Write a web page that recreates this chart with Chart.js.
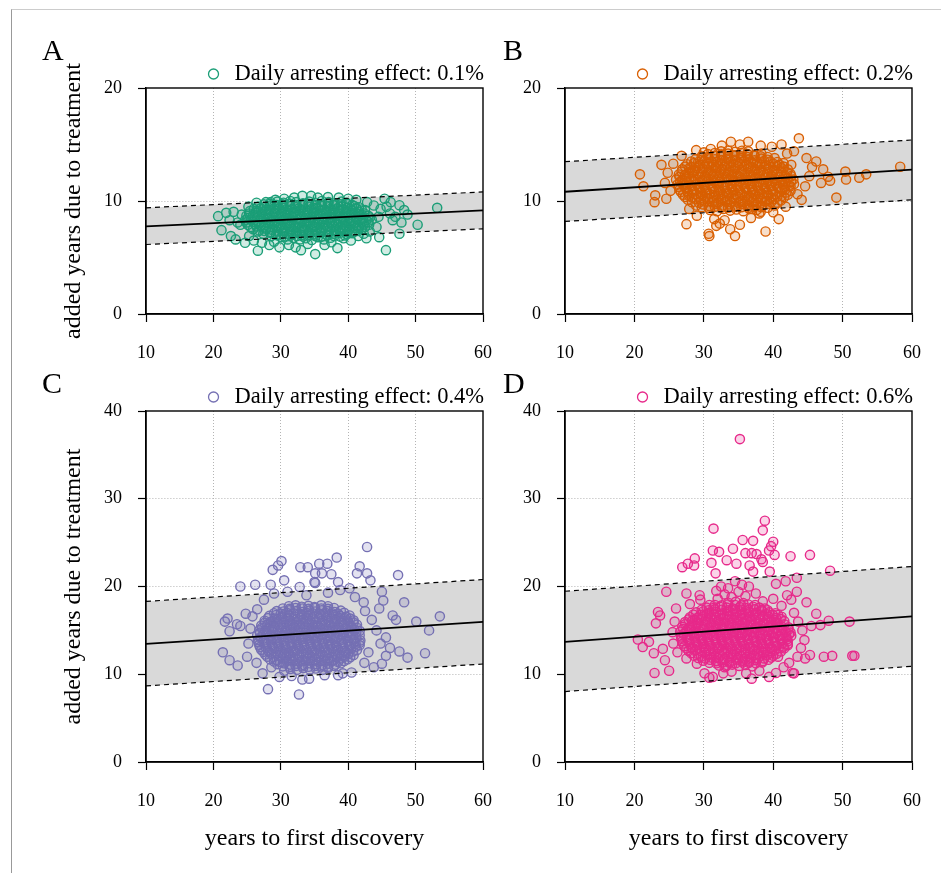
<!DOCTYPE html>
<html>
<head>
<meta charset="utf-8">
<script src="https://cdn.jsdelivr.net/npm/chart.js@4.4.0/dist/chart.umd.min.js"></script>
<style>
  body { margin: 0; background: #fff; width: 941px; height: 873px; position: relative; overflow: hidden; }
  .frame { position: absolute; left: 11px; top: 9px; right: -2px; bottom: -2px; border-left: 1px solid #999; border-top: 1px solid #ccc; }
  canvas { position: absolute; }
</style>
</head>
<body>
<div class="frame"></div>
<canvas id="chartA" width="512" height="370" style="left:0;top:0"></canvas>
<canvas id="chartB" width="471" height="370" style="left:470px;top:0"></canvas>
<canvas id="chartC" width="512" height="503" style="left:0;top:370px"></canvas>
<canvas id="chartD" width="471" height="503" style="left:470px;top:370px"></canvas>
<script>
// ------------------- DATA -------------------
const xTicks = [10, 20, 30, 40, 50, 60];
const yTicksTop = [0, 10, 20];
const yTicksBottom = [0, 10, 20, 30, 40];
const lineX = [10, 60];

const effects = ["0.1%", "0.2%", "0.4%", "0.6%"];

// fitted line and dashed band, values at x = 10 and x = 60
const fitA = [7.75, 9.17],  upperA = [9.4, 10.8],   lowerA = [6.15, 7.54];
const fitB = [10.82, 12.77], upperB = [13.48, 15.4], lowerB = [8.19, 10.1];
const fitC = [13.46, 15.96], upperC = [18.3, 20.8],  lowerC = [8.67, 11.17];
const fitD = [13.68, 16.6],  upperD = [19.46, 22.28], lowerD = [8.03, 10.91];

// [years to first discovery, added years due to treatment]
const pointsA = [
  [30.1,6.8],[31.0,6.6],[31.9,6.75],[32.8,6.6],[33.7,6.7],[34.6,6.55],[35.5,6.8],[36.4,6.6],[37.4,6.75],
  [28.6,6.9],[29.6,6.95],[30.5,6.85],[31.5,6.95],[32.4,6.9],[33.3,6.85],[34.2,6.95],[35.1,6.9],[36.0,6.85],[36.9,6.95],[37.9,6.9],[38.8,6.85],[39.5,6.95],
  [27.4,7.1],[28.4,7.2],[29.3,7.0],[30.3,7.15],[31.2,7.05],[32.2,7.2],[33.1,7.0],[34.1,7.15],[35.0,7.05],[36.0,7.2],[36.9,7.0],[37.9,7.1],[38.8,7.2],[39.8,7.05],[40.6,7.15],
  [26.6,7.3],[27.6,7.35],[28.5,7.25],[29.5,7.3],[30.4,7.35],[31.4,7.25],[32.3,7.3],[33.3,7.35],[34.2,7.25],[35.2,7.3],[36.1,7.35],[37.1,7.25],[38.0,7.3],[39.0,7.35],[39.9,7.25],[40.9,7.3],[41.5,7.35],
  [25.9,7.5],[26.8,7.4],[27.8,7.55],[28.7,7.45],[29.7,7.6],[30.6,7.4],[31.6,7.5],[32.5,7.6],[33.5,7.45],[34.4,7.55],[35.4,7.4],[36.3,7.6],[37.3,7.5],[38.2,7.4],[39.2,7.55],[40.1,7.45],[41.1,7.6],[42.0,7.5],
  [25.5,7.7],[26.4,7.75],[27.4,7.65],[28.3,7.7],[29.3,7.75],[30.2,7.65],[31.2,7.7],[32.1,7.75],[33.1,7.65],[34.0,7.7],[35.0,7.75],[35.9,7.65],[36.9,7.7],[37.8,7.75],[38.8,7.65],[39.7,7.7],[40.7,7.75],[41.6,7.65],[42.5,7.7],
  [25.1,7.9],[26.2,7.95],[27.1,7.85],[28.1,8.0],[29.0,7.9],[30.0,7.8],[30.9,7.95],[31.9,7.85],[32.8,8.0],[33.8,7.9],[34.7,7.8],[35.7,7.95],[36.6,7.85],[37.6,8.0],[38.5,7.9],[39.5,7.8],[40.4,7.95],[41.4,7.85],[42.3,8.0],[43.1,7.9],
  [24.9,8.1],[25.9,8.15],[26.8,8.05],[27.8,8.1],[28.7,8.15],[29.7,8.05],[30.6,8.1],[31.6,8.15],[32.5,8.05],[33.5,8.1],[34.4,8.15],[35.4,8.05],[36.3,8.1],[37.3,8.15],[38.2,8.05],[39.2,8.1],[40.1,8.15],[41.1,8.05],[42.0,8.1],[43.0,8.15],
  [24.7,8.3],[25.6,8.35],[26.6,8.25],[27.5,8.4],[28.5,8.3],[29.4,8.2],[30.4,8.35],[31.3,8.25],[32.3,8.4],[33.2,8.3],[34.2,8.2],[35.1,8.35],[36.1,8.25],[37.0,8.4],[38.0,8.3],[38.9,8.2],[39.9,8.35],[40.8,8.25],[41.8,8.4],[42.7,8.3],[43.5,8.35],
  [25.1,8.5],[26.1,8.55],[27.0,8.45],[28.0,8.5],[28.9,8.55],[29.9,8.45],[30.8,8.5],[31.8,8.55],[32.7,8.45],[33.7,8.5],[34.6,8.55],[35.6,8.45],[36.5,8.5],[37.5,8.55],[38.4,8.45],[39.4,8.5],[40.3,8.55],[41.3,8.45],[42.2,8.5],[43.2,8.55],
  [24.9,8.7],[25.9,8.75],[26.8,8.65],[27.8,8.8],[28.7,8.7],[29.7,8.6],[30.6,8.75],[31.6,8.65],[32.5,8.8],[33.5,8.7],[34.4,8.6],[35.4,8.75],[36.3,8.65],[37.3,8.8],[38.2,8.7],[39.2,8.6],[40.1,8.75],[41.1,8.65],[42.0,8.8],[43.0,8.7],
  [25.3,8.9],[26.3,8.95],[27.2,8.85],[28.2,8.9],[29.1,8.95],[30.1,8.85],[31.0,8.9],[32.0,8.95],[32.9,8.85],[33.9,8.9],[34.8,8.95],[35.8,8.85],[36.7,8.9],[37.7,8.95],[38.6,8.85],[39.6,8.9],[40.5,8.95],[41.5,8.85],[42.4,8.9],
  [25.4,9.1],[26.4,9.15],[27.3,9.05],[28.3,9.2],[29.2,9.1],[30.2,9.0],[31.1,9.15],[32.1,9.05],[33.0,9.2],[34.0,9.1],[34.9,9.0],[35.9,9.15],[36.8,9.05],[37.8,9.2],[38.7,9.1],[39.7,9.0],[40.6,9.15],[41.6,9.05],[42.5,9.2],
  [26.0,9.3],[27.0,9.35],[27.9,9.25],[28.9,9.3],[29.8,9.35],[30.8,9.25],[31.7,9.3],[32.7,9.35],[33.6,9.25],[34.6,9.3],[35.5,9.35],[36.5,9.25],[37.4,9.3],[38.4,9.35],[39.3,9.25],[40.3,9.3],[41.2,9.35],[42.0,9.25],
  [26.6,9.5],[27.6,9.45],[28.5,9.6],[29.5,9.5],[30.4,9.4],[31.4,9.55],[32.3,9.45],[33.3,9.6],[34.2,9.5],[35.2,9.4],[36.1,9.55],[37.1,9.45],[38.0,9.6],[39.0,9.5],[39.9,9.4],[40.9,9.55],[41.6,9.45],
  [27.5,9.7],[28.4,9.75],[29.4,9.65],[30.3,9.7],[31.3,9.75],[32.2,9.65],[33.2,9.7],[34.1,9.75],[35.1,9.65],[36.0,9.7],[37.0,9.75],[37.9,9.65],[38.9,9.7],[39.8,9.75],[40.6,9.65],
  [28.5,9.9],[29.5,9.95],[30.4,9.85],[31.4,10.0],[32.3,9.9],[33.3,9.8],[34.2,9.95],[35.2,9.85],[36.1,10.0],[37.1,9.9],[38.0,9.8],[39.0,9.95],[39.7,9.85],
  [20.7,8.66],[21.9,8.95],[23.0,9.04],[21.2,7.42],[22.4,8.3],[22.6,6.9],[23.3,6.6],[24.7,6.3],[26.6,5.6],[33.2,10.46],
  [35.1,5.3],[38.4,5.83],[33.0,5.65],[29.8,5.9],[45.4,10.2],[45.6,5.65],[47.6,9.63],[48.8,8.8],[50.3,7.9],[53.2,9.4],
  [47.6,7.1],[44.6,6.8],[42.7,6.7],[40.4,6.5],[42.3,7.1],[46.6,8.3],[45.7,9.5],[24.0,7.9],[24.2,8.8],[23.6,8.1],
  [25.3,6.9],[26.0,6.5],[27.2,6.3],[28.3,6.1],[29.0,6.4],[31.2,6.1],[32.2,5.9],[34.0,6.2],[36.5,6.1],[37.5,6.35],
  [39.3,6.7],[41.5,6.9],[43.2,7.3],[44.2,7.7],[44.5,8.6],[44.8,9.3],[46.2,8.9],[47.0,8.6],[46.3,9.9],[43.8,9.6],
  [42.8,9.9],[41.2,10.1],[40.0,10.2],[38.6,10.3],[37.0,10.35],[35.5,10.3],[34.5,10.45],[32.0,10.3],[30.5,10.2],[29.2,10.1],
  [27.8,9.9],[26.4,9.85],[25.2,9.5],[47.9,8.1],[48.3,9.2]
];

const pointsB = [
  [30.9,9.2],[31.9,9.1],[32.8,9.3],[33.8,9.15],[34.7,9.25],[35.7,9.1],[36.6,9.3],[37.6,9.2],[38.2,9.05],
  [29.7,9.45],[30.7,9.4],[31.6,9.5],[32.6,9.45],[33.5,9.4],[34.5,9.5],[35.4,9.45],[36.4,9.4],[37.3,9.5],[38.3,9.45],[39.2,9.4],
  [28.9,9.6],[29.9,9.7],[30.8,9.55],[31.8,9.75],[32.7,9.6],[33.7,9.7],[34.6,9.55],[35.6,9.75],[36.5,9.6],[37.5,9.7],[38.4,9.55],[39.4,9.75],[40.2,9.6],
  [28.3,9.9],[29.3,9.85],[30.2,9.95],[31.2,9.9],[32.1,9.85],[33.1,9.95],[34.0,9.9],[35.0,9.85],[35.9,9.95],[36.9,9.9],[37.8,9.85],[38.8,9.95],[39.7,9.9],[40.6,9.85],
  [27.7,10.1],[28.7,10.2],[29.6,10.05],[30.6,10.2],[31.5,10.0],[32.5,10.15],[33.4,10.05],[34.4,10.2],[35.3,10.0],[36.3,10.15],[37.2,10.05],[38.2,10.2],[39.1,10.0],[40.1,10.15],[41.1,10.05],
  [27.3,10.35],[28.3,10.3],[29.2,10.4],[30.2,10.35],[31.1,10.3],[32.1,10.4],[33.0,10.35],[34.0,10.3],[34.9,10.4],[35.9,10.35],[36.8,10.3],[37.8,10.4],[38.7,10.35],[39.7,10.3],[40.6,10.4],[41.6,10.35],
  [27.0,10.55],[27.9,10.45],[28.9,10.6],[29.8,10.5],[30.8,10.65],[31.7,10.45],[32.7,10.55],[33.6,10.65],[34.6,10.5],[35.5,10.6],[36.5,10.45],[37.4,10.55],[38.4,10.65],[39.3,10.5],[40.3,10.6],[41.2,10.45],[42.1,10.55],
  [26.7,10.8],[27.7,10.75],[28.6,10.85],[29.6,10.8],[30.5,10.75],[31.5,10.85],[32.4,10.8],[33.4,10.75],[34.3,10.85],[35.3,10.8],[36.2,10.75],[37.2,10.85],[38.1,10.8],[39.1,10.75],[40.0,10.85],[41.0,10.8],[41.9,10.75],
  [26.5,11.0],[27.5,11.1],[28.4,10.95],[29.4,11.05],[30.3,10.9],[31.3,11.1],[32.2,11.0],[33.2,10.9],[34.1,11.05],[35.1,10.95],[36.0,11.1],[37.0,11.0],[37.9,10.9],[38.9,11.05],[39.8,10.95],[40.8,11.1],[41.7,11.0],[42.5,10.9],
  [26.4,11.25],[27.3,11.2],[28.3,11.3],[29.2,11.25],[30.2,11.2],[31.1,11.3],[32.1,11.25],[33.0,11.2],[34.0,11.3],[34.9,11.25],[35.9,11.2],[36.8,11.3],[37.8,11.25],[38.7,11.2],[39.7,11.3],[40.6,11.25],[41.6,11.2],[42.5,11.3],
  [26.2,11.45],[27.1,11.55],[28.1,11.4],[29.0,11.5],[30.0,11.35],[30.9,11.55],[31.9,11.45],[32.8,11.35],[33.8,11.5],[34.7,11.4],[35.7,11.55],[36.6,11.45],[37.6,11.35],[38.5,11.5],[39.5,11.4],[40.4,11.55],[41.4,11.45],[42.3,11.35],[43.0,11.5],
  [26.6,11.7],[27.6,11.65],[28.5,11.75],[29.5,11.7],[30.4,11.65],[31.4,11.75],[32.3,11.7],[33.3,11.65],[34.2,11.75],[35.2,11.7],[36.1,11.65],[37.1,11.75],[38.0,11.7],[39.0,11.65],[39.9,11.75],[40.9,11.7],[41.8,11.65],[42.6,11.75],
  [26.0,11.9],[26.9,11.85],[27.9,12.0],[28.8,11.9],[29.8,11.8],[30.7,11.95],[31.7,11.85],[32.6,12.0],[33.6,11.9],[34.5,11.8],[35.5,11.95],[36.4,11.85],[37.4,12.0],[38.3,11.9],[39.3,11.8],[40.2,11.95],[41.2,11.85],[42.1,12.0],[42.9,11.9],
  [26.5,12.15],[27.5,12.1],[28.4,12.2],[29.4,12.15],[30.3,12.1],[31.3,12.2],[32.2,12.15],[33.2,12.1],[34.1,12.2],[35.1,12.15],[36.0,12.1],[37.0,12.2],[37.9,12.15],[38.9,12.1],[39.8,12.2],[40.8,12.15],[41.7,12.1],[42.6,12.2],
  [26.4,12.35],[27.3,12.3],[28.3,12.45],[29.2,12.35],[30.2,12.25],[31.1,12.4],[32.1,12.3],[33.0,12.45],[34.0,12.35],[34.9,12.25],[35.9,12.4],[36.8,12.3],[37.8,12.45],[38.7,12.35],[39.7,12.25],[40.6,12.4],[41.6,12.3],[42.5,12.4],
  [26.8,12.6],[27.8,12.55],[28.7,12.65],[29.7,12.6],[30.6,12.55],[31.6,12.65],[32.5,12.6],[33.5,12.55],[34.4,12.65],[35.4,12.6],[36.3,12.55],[37.3,12.65],[38.2,12.6],[39.2,12.55],[40.1,12.65],[41.1,12.6],[42.0,12.55],
  [26.9,12.8],[27.9,12.9],[28.8,12.75],[29.8,12.85],[30.7,12.7],[31.7,12.9],[32.6,12.8],[33.6,12.7],[34.5,12.85],[35.5,12.75],[36.4,12.9],[37.4,12.8],[38.3,12.7],[39.3,12.85],[40.2,12.75],[41.2,12.9],[42.1,12.8],
  [27.3,13.05],[28.2,13.0],[29.2,13.1],[30.1,13.05],[31.1,13.0],[32.0,13.1],[33.0,13.05],[33.9,13.0],[34.9,13.1],[35.8,13.05],[36.8,13.0],[37.7,13.1],[38.7,13.05],[39.6,13.0],[40.6,13.1],[41.5,13.05],
  [27.6,13.25],[28.6,13.35],[29.5,13.2],[30.5,13.3],[31.4,13.15],[32.4,13.35],[33.3,13.25],[34.3,13.15],[35.2,13.3],[36.2,13.2],[37.1,13.35],[38.1,13.25],[39.0,13.15],[40.0,13.3],[40.9,13.2],[41.5,13.35],
  [28.2,13.5],[29.2,13.45],[30.1,13.55],[31.1,13.5],[32.0,13.45],[33.0,13.55],[33.9,13.5],[34.9,13.45],[35.8,13.55],[36.8,13.5],[37.7,13.45],[38.7,13.55],[39.6,13.5],[40.6,13.45],
  [28.8,13.7],[29.7,13.65],[30.7,13.8],[31.6,13.7],[32.6,13.6],[33.5,13.75],[34.5,13.65],[35.4,13.8],[36.4,13.7],[37.3,13.6],[38.3,13.75],[39.2,13.65],[40.2,13.8],
  [29.7,13.95],[30.6,13.9],[31.6,14.0],[32.5,13.95],[33.5,13.9],[34.4,14.0],[35.4,13.95],[36.3,13.9],[37.3,14.0],[38.2,13.95],[39.2,13.9],
  [30.6,14.15],[31.6,14.25],[32.5,14.1],[33.5,14.2],[34.4,14.05],[35.4,14.25],[36.3,14.15],[37.3,14.05],[38.3,14.2],
  [32.5,14.4],[33.5,14.45],[34.5,14.35],[35.5,14.45],[36.4,14.4],
  [43.7,15.55],[41.2,15.0],[33.9,15.25],[36.4,15.25],[20.8,12.36],[21.3,11.3],[22.9,9.9],[23.0,10.5],[23.9,13.2],[27.5,7.95],
  [30.7,7.1],[30.8,6.9],[34.5,6.9],[38.9,7.3],[40.8,8.4],[35.2,7.9],[32.3,8.0],[49.1,10.3],[50.4,12.6],[50.5,11.9],
  [52.4,12.06],[53.4,12.36],[58.3,13.03],[47.9,12.15],[46.2,13.5],[44.1,10.1],[28.9,14.5],[24.4,11.6],[24.8,12.5],[25.2,10.9],
  [24.6,10.2],[25.6,13.3],[26.8,14.0],[27.9,9.3],[29.0,8.7],[31.5,8.4],[33.0,8.3],[36.8,8.5],[38.0,8.9],[40.0,9.0],
  [41.8,9.5],[43.5,10.6],[44.6,11.3],[45.2,12.2],[45.6,13.0],[44.8,13.8],[43.0,14.4],[42.0,14.2],[39.8,14.8],[38.2,14.9],
  [35.2,15.0],[32.6,14.9],[31.0,14.6],[30.0,14.3],[46.9,11.6],[48.2,11.8],[47.2,12.8],[31.8,7.8],[33.8,7.5],[37.0,9.3],
  [42.6,13.2],[27.2,11.4]
];

const pointsC = [
  [31.4,10.6],[32.4,10.5],[33.3,10.7],[34.3,10.55],[35.2,10.65],[36.2,10.5],[37.0,10.7],
  [30.3,10.9],[31.3,10.85],[32.2,10.95],[33.2,10.9],[34.1,10.85],[35.1,10.95],[36.0,10.9],[37.0,10.85],[37.9,10.95],
  [29.5,11.15],[30.5,11.25],[31.4,11.1],[32.4,11.2],[33.3,11.05],[34.3,11.25],[35.2,11.15],[36.2,11.05],[37.1,11.2],[38.1,11.1],[38.9,11.25],
  [29.0,11.45],[29.9,11.4],[30.9,11.5],[31.8,11.45],[32.8,11.4],[33.7,11.5],[34.7,11.45],[35.6,11.4],[36.6,11.5],[37.5,11.45],[38.5,11.4],[39.4,11.5],
  [28.4,11.7],[29.4,11.6],[30.3,11.8],[31.3,11.65],[32.2,11.75],[33.2,11.6],[34.1,11.8],[35.1,11.7],[36.0,11.6],[37.0,11.75],[37.9,11.65],[38.9,11.8],[39.9,11.7],
  [28.0,12.0],[28.9,11.95],[29.9,12.05],[30.8,12.0],[31.8,11.95],[32.7,12.05],[33.7,12.0],[34.6,11.95],[35.6,12.05],[36.5,12.0],[37.5,11.95],[38.4,12.05],[39.4,12.0],[40.3,11.95],
  [27.7,12.25],[28.6,12.35],[29.6,12.2],[30.5,12.3],[31.5,12.15],[32.4,12.35],[33.4,12.25],[34.3,12.15],[35.3,12.3],[36.2,12.2],[37.2,12.35],[38.1,12.25],[39.1,12.15],[40.0,12.3],[40.8,12.2],
  [27.4,12.55],[28.3,12.5],[29.3,12.6],[30.2,12.55],[31.2,12.5],[32.1,12.6],[33.1,12.55],[34.0,12.5],[35.0,12.6],[35.9,12.55],[36.9,12.5],[37.8,12.6],[38.8,12.55],[39.7,12.5],[40.7,12.6],
  [27.1,12.8],[28.1,12.7],[29.0,12.9],[30.0,12.75],[30.9,12.85],[31.9,12.7],[32.8,12.9],[33.8,12.8],[34.7,12.7],[35.7,12.85],[36.6,12.75],[37.6,12.9],[38.5,12.8],[39.5,12.7],[40.4,12.85],[41.3,12.75],
  [26.9,13.1],[27.8,13.05],[28.8,13.15],[29.7,13.1],[30.7,13.05],[31.6,13.15],[32.6,13.1],[33.5,13.05],[34.5,13.15],[35.4,13.1],[36.4,13.05],[37.3,13.15],[38.3,13.1],[39.2,13.05],[40.2,13.15],[41.1,13.1],
  [26.8,13.35],[27.8,13.45],[28.7,13.3],[29.7,13.4],[30.6,13.25],[31.6,13.45],[32.5,13.35],[33.5,13.25],[34.4,13.4],[35.4,13.3],[36.3,13.45],[37.3,13.35],[38.2,13.25],[39.2,13.4],[40.1,13.3],[41.1,13.45],[41.7,13.3],
  [26.7,13.65],[27.6,13.6],[28.6,13.7],[29.5,13.65],[30.5,13.6],[31.4,13.7],[32.4,13.65],[33.3,13.6],[34.3,13.7],[35.2,13.65],[36.2,13.6],[37.1,13.7],[38.1,13.65],[39.0,13.6],[40.0,13.7],[40.9,13.65],[41.7,13.6],
  [26.6,13.9],[27.5,13.85],[28.5,14.0],[29.4,13.9],[30.4,13.8],[31.3,13.95],[32.3,13.85],[33.2,14.0],[34.2,13.9],[35.1,13.8],[36.1,13.95],[37.0,13.85],[38.0,14.0],[38.9,13.9],[39.9,13.8],[40.8,13.95],[41.8,13.85],
  [27.0,14.2],[27.9,14.15],[28.9,14.25],[29.8,14.2],[30.8,14.15],[31.7,14.25],[32.7,14.2],[33.6,14.15],[34.6,14.25],[35.5,14.2],[36.5,14.15],[37.4,14.25],[38.4,14.2],[39.3,14.15],[40.3,14.25],[41.2,14.2],
  [26.5,14.45],[27.4,14.55],[28.4,14.4],[29.3,14.5],[30.3,14.35],[31.2,14.55],[32.2,14.45],[33.1,14.35],[34.1,14.5],[35.0,14.4],[36.0,14.55],[36.9,14.45],[37.9,14.35],[38.8,14.5],[39.8,14.4],[40.7,14.55],[41.7,14.45],
  [26.9,14.75],[27.9,14.7],[28.8,14.8],[29.8,14.75],[30.7,14.7],[31.7,14.8],[32.6,14.75],[33.6,14.7],[34.5,14.8],[35.5,14.75],[36.4,14.7],[37.4,14.8],[38.3,14.75],[39.3,14.7],[40.2,14.8],[41.2,14.75],
  [26.8,15.0],[27.7,14.95],[28.7,15.1],[29.6,15.0],[30.6,14.9],[31.5,15.05],[32.5,14.95],[33.4,15.1],[34.4,15.0],[35.3,14.9],[36.3,15.05],[37.2,14.95],[38.2,15.1],[39.1,15.0],[40.1,14.9],[41.0,15.05],[41.7,14.95],
  [27.2,15.3],[28.2,15.25],[29.1,15.35],[30.1,15.3],[31.0,15.25],[32.0,15.35],[32.9,15.3],[33.9,15.25],[34.8,15.35],[35.8,15.3],[36.7,15.25],[37.7,15.35],[38.6,15.3],[39.6,15.25],[40.5,15.35],[41.3,15.3],
  [27.1,15.55],[28.0,15.65],[29.0,15.5],[29.9,15.6],[30.9,15.45],[31.8,15.65],[32.8,15.55],[33.7,15.45],[34.7,15.6],[35.6,15.5],[36.6,15.65],[37.5,15.55],[38.5,15.45],[39.4,15.6],[40.4,15.5],[41.3,15.65],
  [27.6,15.85],[28.5,15.8],[29.5,15.9],[30.4,15.85],[31.4,15.8],[32.3,15.9],[33.3,15.85],[34.2,15.8],[35.2,15.9],[36.1,15.85],[37.1,15.8],[38.0,15.9],[39.0,15.85],[39.9,15.8],[40.8,15.9],
  [27.6,16.1],[28.6,16.0],[29.5,16.2],[30.5,16.05],[31.4,16.15],[32.4,16.0],[33.3,16.2],[34.3,16.1],[35.2,16.0],[36.2,16.15],[37.1,16.05],[38.1,16.2],[39.0,16.1],[40.0,16.0],[40.8,16.15],
  [28.1,16.4],[29.1,16.35],[30.0,16.45],[31.0,16.4],[31.9,16.35],[32.9,16.45],[33.8,16.4],[34.8,16.35],[35.7,16.45],[36.7,16.4],[37.6,16.35],[38.6,16.45],[39.5,16.4],[40.3,16.35],
  [28.3,16.65],[29.3,16.75],[30.2,16.6],[31.2,16.7],[32.1,16.55],[33.1,16.75],[34.0,16.65],[35.0,16.55],[35.9,16.7],[36.9,16.6],[37.8,16.75],[38.8,16.65],[39.7,16.55],[40.2,16.7],
  [29.0,16.95],[30.0,16.9],[30.9,17.0],[31.9,16.95],[32.8,16.9],[33.8,17.0],[34.7,16.95],[35.7,16.9],[36.6,17.0],[37.6,16.95],[38.5,16.9],[39.4,17.0],
  [29.4,17.2],[30.4,17.15],[31.3,17.3],[32.3,17.2],[33.2,17.1],[34.2,17.25],[35.1,17.15],[36.1,17.3],[37.0,17.2],[38.0,17.1],[38.9,17.25],
  [30.3,17.5],[31.3,17.45],[32.2,17.55],[33.2,17.5],[34.1,17.45],[35.1,17.55],[36.0,17.5],[37.0,17.45],[37.9,17.55],
  [31.2,17.75],[32.2,17.85],[33.1,17.7],[34.1,17.8],[35.0,17.65],[36.0,17.85],[37.0,17.75],
  [42.8,24.5],[38.3,23.3],[30.1,22.9],[29.6,22.4],[28.8,21.9],[32.9,22.2],[34.0,22.2],[35.7,22.6],[36.9,22.6],[35.1,21.5],
  [36.1,21.5],[37.5,21.4],[41.7,22.3],[41.3,21.5],[42.8,21.5],[43.3,20.7],[47.4,21.3],[24.0,20.0],[26.2,20.2],[28.5,20.2],
  [30.5,20.7],[32.8,19.95],[35.0,20.5],[48.3,18.2],[50.1,16.0],[52.0,15.0],[53.6,16.6],[51.4,12.4],[48.8,11.9],[47.6,12.6],
  [45.0,11.2],[43.8,10.8],[28.1,8.3],[32.7,7.7],[21.4,12.5],[22.4,11.6],[23.6,11.0],[21.7,16.0],[22.1,16.35],[22.4,14.9],
  [24.0,15.5],[27.3,10.1],[29.8,9.7],[33.2,9.4],[34.2,9.5],[38.5,9.9],[45.0,19.4],[45.2,18.4],[42.3,18.2],[46.6,16.7],
  [47.1,16.2],[38.5,20.5],[40.2,19.8],[35.1,20.4],[25.0,12.0],[25.2,13.5],[25.5,15.2],[25.8,16.6],[26.5,17.4],[24.8,16.9],
  [23.5,15.7],[27.5,18.5],[29.0,19.2],[31.0,19.4],[33.8,19.0],[37.0,19.3],[38.8,19.6],[41.0,18.8],[42.5,17.2],[43.5,16.2],
  [44.2,15.0],[44.8,13.5],[45.6,14.2],[46.2,13.0],[43.0,12.5],[42.4,11.3],[40.5,10.2],[36.5,9.9],[31.6,9.8],[30.5,10.4],
  [28.6,10.8],[26.4,11.3],[44.6,17.5],[45.6,12.1],[39.2,10.1]
];

const pointsD = [
  [32.2,11.0],[33.2,10.9],[34.1,11.1],[35.1,10.95],[36.0,11.05],[37.0,10.9],
  [30.8,11.3],[31.8,11.25],[32.7,11.35],[33.7,11.3],[34.6,11.25],[35.6,11.35],[36.5,11.3],[37.5,11.25],[38.4,11.35],
  [29.9,11.55],[30.9,11.65],[31.8,11.5],[32.8,11.6],[33.7,11.45],[34.7,11.65],[35.6,11.55],[36.6,11.45],[37.5,11.6],[38.5,11.5],[39.3,11.65],
  [29.2,11.85],[30.2,11.8],[31.1,11.9],[32.1,11.85],[33.0,11.8],[34.0,11.9],[34.9,11.85],[35.9,11.8],[36.8,11.9],[37.8,11.85],[38.7,11.8],[39.7,11.9],
  [28.6,12.1],[29.6,12.0],[30.5,12.2],[31.5,12.05],[32.4,12.15],[33.4,12.0],[34.3,12.2],[35.3,12.1],[36.2,12.0],[37.2,12.15],[38.1,12.05],[39.1,12.2],[40.0,12.1],[40.7,12.0],
  [28.2,12.4],[29.1,12.35],[30.1,12.45],[31.0,12.4],[32.0,12.35],[32.9,12.45],[33.9,12.4],[34.8,12.35],[35.8,12.45],[36.7,12.4],[37.7,12.35],[38.6,12.45],[39.6,12.4],[40.5,12.35],
  [27.8,12.65],[28.8,12.75],[29.7,12.6],[30.7,12.7],[31.6,12.55],[32.6,12.75],[33.5,12.65],[34.5,12.55],[35.4,12.7],[36.4,12.6],[37.3,12.75],[38.3,12.65],[39.2,12.55],[40.2,12.7],[41.1,12.6],
  [27.5,12.95],[28.4,12.9],[29.4,13.0],[30.3,12.95],[31.3,12.9],[32.2,13.0],[33.2,12.95],[34.1,12.9],[35.1,13.0],[36.0,12.95],[37.0,12.9],[37.9,13.0],[38.9,12.95],[39.8,12.9],[40.8,13.0],[41.6,12.95],
  [27.2,13.2],[28.2,13.1],[29.1,13.3],[30.1,13.15],[31.0,13.25],[32.0,13.1],[32.9,13.3],[33.9,13.2],[34.8,13.1],[35.8,13.25],[36.7,13.15],[37.7,13.3],[38.6,13.2],[39.6,13.1],[40.5,13.25],[41.5,13.15],[42.1,13.3],
  [27.0,13.5],[28.0,13.45],[28.9,13.55],[29.9,13.5],[30.8,13.45],[31.8,13.55],[32.7,13.5],[33.7,13.45],[34.6,13.55],[35.6,13.5],[36.5,13.45],[37.5,13.55],[38.4,13.5],[39.4,13.45],[40.3,13.55],[41.3,13.5],[42.1,13.45],
  [26.9,13.75],[27.9,13.85],[28.8,13.7],[29.8,13.8],[30.7,13.65],[31.7,13.85],[32.6,13.75],[33.6,13.65],[34.5,13.8],[35.5,13.7],[36.4,13.85],[37.4,13.75],[38.3,13.65],[39.3,13.8],[40.2,13.7],[41.2,13.85],[42.1,13.75],
  [26.8,14.05],[27.7,14.0],[28.7,14.1],[29.6,14.05],[30.6,14.0],[31.5,14.1],[32.5,14.05],[33.4,14.0],[34.4,14.1],[35.3,14.05],[36.3,14.0],[37.2,14.1],[38.2,14.05],[39.1,14.0],[40.1,14.1],[41.0,14.05],[42.0,14.0],
  [26.7,14.3],[27.6,14.25],[28.6,14.4],[29.5,14.3],[30.5,14.2],[31.4,14.35],[32.4,14.25],[33.3,14.4],[34.3,14.3],[35.2,14.2],[36.2,14.35],[37.1,14.25],[38.1,14.4],[39.0,14.3],[40.0,14.2],[40.9,14.35],[41.9,14.25],[42.6,14.4],
  [27.1,14.6],[28.0,14.55],[29.0,14.65],[29.9,14.6],[30.9,14.55],[31.8,14.65],[32.8,14.6],[33.7,14.55],[34.7,14.65],[35.6,14.6],[36.6,14.55],[37.5,14.65],[38.5,14.6],[39.4,14.55],[40.4,14.65],[41.3,14.6],[42.3,14.55],
  [26.6,14.85],[27.5,14.95],[28.5,14.8],[29.4,14.9],[30.4,14.75],[31.3,14.95],[32.3,14.85],[33.2,14.75],[34.2,14.9],[35.1,14.8],[36.1,14.95],[37.0,14.85],[38.0,14.75],[38.9,14.9],[39.9,14.8],[40.8,14.95],[41.8,14.85],[42.5,14.75],
  [27.0,15.15],[28.0,15.1],[28.9,15.2],[29.9,15.15],[30.8,15.1],[31.8,15.2],[32.7,15.15],[33.7,15.1],[34.6,15.2],[35.6,15.15],[36.5,15.1],[37.5,15.2],[38.4,15.15],[39.4,15.1],[40.3,15.2],[41.3,15.15],[42.2,15.1],
  [26.9,15.4],[27.9,15.35],[28.8,15.5],[29.8,15.4],[30.7,15.3],[31.7,15.45],[32.6,15.35],[33.6,15.5],[34.5,15.4],[35.5,15.3],[36.4,15.45],[37.4,15.35],[38.3,15.5],[39.3,15.4],[40.2,15.3],[41.2,15.45],[42.2,15.35],
  [27.3,15.7],[28.3,15.65],[29.2,15.75],[30.2,15.7],[31.1,15.65],[32.1,15.75],[33.0,15.7],[34.0,15.65],[34.9,15.75],[35.9,15.7],[36.8,15.65],[37.8,15.75],[38.7,15.7],[39.7,15.65],[40.6,15.75],[41.6,15.7],
  [27.3,15.95],[28.3,16.05],[29.2,15.9],[30.2,16.0],[31.1,15.85],[32.1,16.05],[33.0,15.95],[34.0,15.85],[34.9,16.0],[35.9,15.9],[36.8,16.05],[37.8,15.95],[38.7,15.85],[39.7,16.0],[40.6,15.9],[41.6,16.05],
  [27.8,16.25],[28.7,16.2],[29.7,16.3],[30.6,16.25],[31.6,16.2],[32.5,16.3],[33.5,16.25],[34.4,16.2],[35.4,16.3],[36.3,16.25],[37.3,16.2],[38.2,16.3],[39.2,16.25],[40.1,16.2],[41.1,16.3],
  [28.0,16.5],[29.0,16.4],[29.9,16.6],[30.9,16.45],[31.8,16.55],[32.8,16.4],[33.7,16.6],[34.7,16.5],[35.6,16.4],[36.6,16.55],[37.5,16.45],[38.5,16.6],[39.4,16.5],[40.4,16.4],[41.2,16.55],
  [28.5,16.8],[29.5,16.75],[30.4,16.85],[31.4,16.8],[32.3,16.75],[33.3,16.85],[34.2,16.8],[35.2,16.75],[36.1,16.85],[37.1,16.8],[38.0,16.75],[39.0,16.85],[39.9,16.8],[40.7,16.75],
  [28.9,17.05],[29.9,17.15],[30.8,17.0],[31.8,17.1],[32.7,16.95],[33.7,17.15],[34.6,17.05],[35.6,16.95],[36.5,17.1],[37.5,17.0],[38.4,17.15],[39.4,17.05],[40.3,16.95],
  [29.7,17.35],[30.7,17.3],[31.6,17.4],[32.6,17.35],[33.5,17.3],[34.5,17.4],[35.4,17.35],[36.4,17.3],[37.3,17.4],[38.3,17.35],[39.2,17.3],
  [30.4,17.6],[31.4,17.55],[32.3,17.7],[33.3,17.6],[34.2,17.5],[35.2,17.65],[36.1,17.55],[37.1,17.7],[38.0,17.6],[38.8,17.5],
  [31.6,17.9],[32.6,17.85],[33.5,17.95],[34.5,17.9],[35.4,17.85],[36.4,17.95],[37.4,17.9],
  [33.5,18.15],[34.6,18.25],[35.7,18.1],
  [32.0,18.6],[33.0,19.1],[34.0,18.8],[35.0,19.4],[36.0,18.9],[33.5,19.8],[35.5,20.2],[32.5,20.0],[34.5,20.6],[36.5,20.0],[31.8,19.5],[37.5,19.2],
  [35.2,36.8],[38.8,27.5],[38.5,26.4],[31.4,26.6],[35.6,25.3],[37.1,25.2],[40.0,25.1],[39.7,24.6],[39.4,24.1],[40.2,23.6],
  [42.5,23.45],[45.3,23.6],[31.3,24.1],[32.2,23.95],[34.2,24.3],[36.0,23.8],[36.9,23.8],[37.6,23.7],[38.3,23.1],[38.5,22.8],
  [26.9,22.2],[27.7,22.6],[28.7,23.2],[28.6,22.4],[31.1,22.7],[33.3,23.0],[34.7,22.6],[36.6,22.4],[37.1,21.7],[39.5,21.7],
  [48.2,21.8],[31.7,21.5],[24.6,19.4],[27.5,19.2],[29.4,19.0],[43.4,21.0],[40.4,20.3],[44.8,18.2],[46.2,16.9],[48.0,16.1],
  [51.0,16.0],[51.7,12.1],[51.4,12.1],[48.5,12.1],[47.3,12.0],[45.3,12.2],[44.5,13.9],[20.5,13.96],[21.2,13.1],[22.1,13.7],
  [22.8,12.4],[22.9,10.15],[25.0,10.4],[24.4,11.6],[24.1,12.9],[23.1,15.8],[23.4,17.1],[23.7,16.7],[30.1,10.1],[31.3,9.7],
  [32.8,10.1],[36.1,10.1],[40.4,10.15],[42.8,10.15],[36.9,9.5],[30.8,9.6],[39.4,9.7],[43.0,10.1],[25.5,14.8],[25.8,16.0],
  [26.2,12.5],[25.6,13.5],[26.0,17.5],[28.0,18.0],[29.5,18.5],[30.8,17.9],[38.5,18.3],[40.0,18.6],[41.2,17.8],[42.0,19.0],
  [43.0,17.0],[43.6,16.0],[44.2,15.0],[44.0,13.0],[43.5,12.0],[42.3,11.3],[41.5,10.8],[38.0,10.4],[34.0,10.3],[33.0,10.8],
  [29.0,11.2],[27.5,11.8],[45.5,15.5],[46.8,15.6],[44.6,11.8],[43.4,19.4],[41.8,20.6],[42.6,18.5]
];


// ------------------- PANEL DECORATION -------------------
const SERIF = '"Liberation Serif", "Times New Roman", serif';
Chart.defaults.font.family = SERIF;
Chart.defaults.color = "#000";

const panelDeco = {
    id: "panelDeco",
    afterDraw(chart, args, opts) {
        const { ctx, chartArea: a } = chart;
        const ds = chart.data.datasets[0];
        ctx.save();

        // full box round the plot
        ctx.strokeStyle = "#000";
        ctx.lineWidth = 1.4;
        ctx.strokeRect(a.left, a.top, a.right - a.left, a.bottom - a.top);

        // panel letter
        ctx.fillStyle = "#000";
        ctx.font = "30px " + SERIF;
        ctx.textAlign = "left";
        ctx.textBaseline = "alphabetic";
        ctx.fillText(opts.letter, opts.letterX, opts.letterY);

        // legend
        ctx.font = "22.5px " + SERIF;
        ctx.textAlign = "right";
        ctx.textBaseline = "middle";
        const ly = a.top - 14;
        ctx.fillText(ds.label, a.right + 1, ly);
        const w = ctx.measureText(ds.label).width;
        ctx.beginPath();
        ctx.arc(a.right + 1 - w - 21, ly, 5, 0, Math.PI * 2);
        ctx.strokeStyle = ds.borderColor;
        ctx.lineWidth = 1.3;
        ctx.stroke();

        // axis titles
        ctx.font = "24px " + SERIF;
        ctx.textAlign = "center";
        ctx.textBaseline = "alphabetic";
        if (opts.yTitle) {
            ctx.save();
            ctx.translate(80, (a.top + a.bottom) / 2);
            ctx.rotate(-Math.PI / 2);
            ctx.fillText(opts.yTitle, 0, 0);
            ctx.restore();
        }
        if (opts.xTitle) {
            ctx.fillText(opts.xTitle, (a.left + a.right) / 2, opts.xTitleY);
        }
        ctx.restore();
    }
};


// ------------------- BUILD ONE PANEL -------------------
function toXY(ys) {
    return lineX.map((x, i) => ({ x: x, y: ys[i] }));
}

function makePanel(id, cfg) {
    const ctx = document.getElementById(id).getContext("2d");
    const dashed = {
        type: "line",
        borderColor: "#000",
        borderWidth: 1.2,
        borderDash: [5, 4],
        pointRadius: 0,
        order: 1
    };

    const gridColor = (vals) => (c) => {
        const v = c.tick ? c.tick.value : null;
        return (v === vals[0] || v === vals[vals.length - 1]) ? "rgba(0,0,0,0)" : "#b4b4b4";
    };

    return new Chart(ctx, {
        type: "scatter",
        data: {
            datasets: [
                {
                    label: "Daily arresting effect: " + cfg.effect,
                    data: cfg.points.map(p => ({ x: p[0], y: p[1] })),
                    borderColor: cfg.color,
                    backgroundColor: cfg.fill,
                    borderWidth: 1.4,
                    pointRadius: 4.6,
                    pointHoverRadius: 4.6,
                    order: 3
                },
                Object.assign({}, dashed, {
                    data: toXY(cfg.upper),
                    fill: "+1",
                    backgroundColor: "#d9d9d9"
                }),
                Object.assign({}, dashed, { data: toXY(cfg.lower), fill: false }),
                {
                    type: "line",
                    data: toXY(cfg.fit),
                    borderColor: "#000",
                    borderWidth: 1.8,
                    pointRadius: 0,
                    fill: false,
                    order: 0
                }
            ]
        },
        options: {
            responsive: false,
            animation: false,
            devicePixelRatio: 1,
            layout: { padding: cfg.padding },
            plugins: {
                legend: { display: false },
                tooltip: { enabled: false },
                filler: { drawTime: "beforeDatasetsDraw" },
                panelDeco: cfg.deco
            },
            scales: {
                x: {
                    type: "linear",
                    min: 10,
                    max: 60,
                    afterBuildTicks: s => { s.ticks = xTicks.map(v => ({ value: v })); },
                    afterFit: s => { s.height = 50; },
                    grid: {
                        color: gridColor(xTicks),
                        lineWidth: 1,
                        tickColor: "#000",
                        tickWidth: 1.2,
                        tickLength: 8
                    },
                    border: { color: "#000", width: 1.4, dash: [1, 2] },
                    ticks: { font: { size: 18 }, color: "#000", padding: 20, maxRotation: 0 }
                },
                y: {
                    type: "linear",
                    min: 0,
                    max: cfg.yTicks[cfg.yTicks.length - 1],
                    afterBuildTicks: s => { s.ticks = cfg.yTicks.map(v => ({ value: v })); },
                    afterFit: s => { s.width = cfg.yWidth; },
                    grid: {
                        color: gridColor(cfg.yTicks),
                        lineWidth: 1,
                        tickColor: "#000",
                        tickWidth: 1.2,
                        tickLength: 8
                    },
                    border: { color: "#000", width: 1.4, dash: [1, 2] },
                    ticks: { font: { size: 18 }, color: "#000", padding: 16 }
                }
            }
        },
        plugins: [panelDeco]
    });
}


// ------------------- INIT -------------------
makePanel("chartA", {
    effect: effects[0], points: pointsA, color: "#1b9e77", fill: "rgba(27,158,119,0.2)",
    fit: fitA, upper: upperA, lower: lowerA, yTicks: yTicksTop, yWidth: 146,
    padding: { left: 0, top: 88, right: 20, bottom: 6 },
    deco: { letter: "A", letterX: 42, letterY: 60, yTitle: "added years due to treatment" }
});

makePanel("chartB", {
    effect: effects[1], points: pointsB, color: "#d95f02", fill: "rgba(217,95,2,0.2)",
    fit: fitB, upper: upperB, lower: lowerB, yTicks: yTicksTop, yWidth: 95,
    padding: { left: 0, top: 88, right: 29, bottom: 6 },
    deco: { letter: "B", letterX: 33, letterY: 60 }
});

makePanel("chartC", {
    effect: effects[2], points: pointsC, color: "#7570b3", fill: "rgba(117,112,179,0.2)",
    fit: fitC, upper: upperC, lower: lowerC, yTicks: yTicksBottom, yWidth: 146,
    padding: { left: 0, top: 41, right: 20, bottom: 61 },
    deco: { letter: "C", letterX: 42, letterY: 23, yTitle: "added years due to treatment",
            xTitle: "years to first discovery", xTitleY: 475 }
});

makePanel("chartD", {
    effect: effects[3], points: pointsD, color: "#e7298a", fill: "rgba(231,41,138,0.2)",
    fit: fitD, upper: upperD, lower: lowerD, yTicks: yTicksBottom, yWidth: 95,
    padding: { left: 0, top: 41, right: 29, bottom: 61 },
    deco: { letter: "D", letterX: 33, letterY: 23,
            xTitle: "years to first discovery", xTitleY: 475 }
});
</script>
</body>
</html>
